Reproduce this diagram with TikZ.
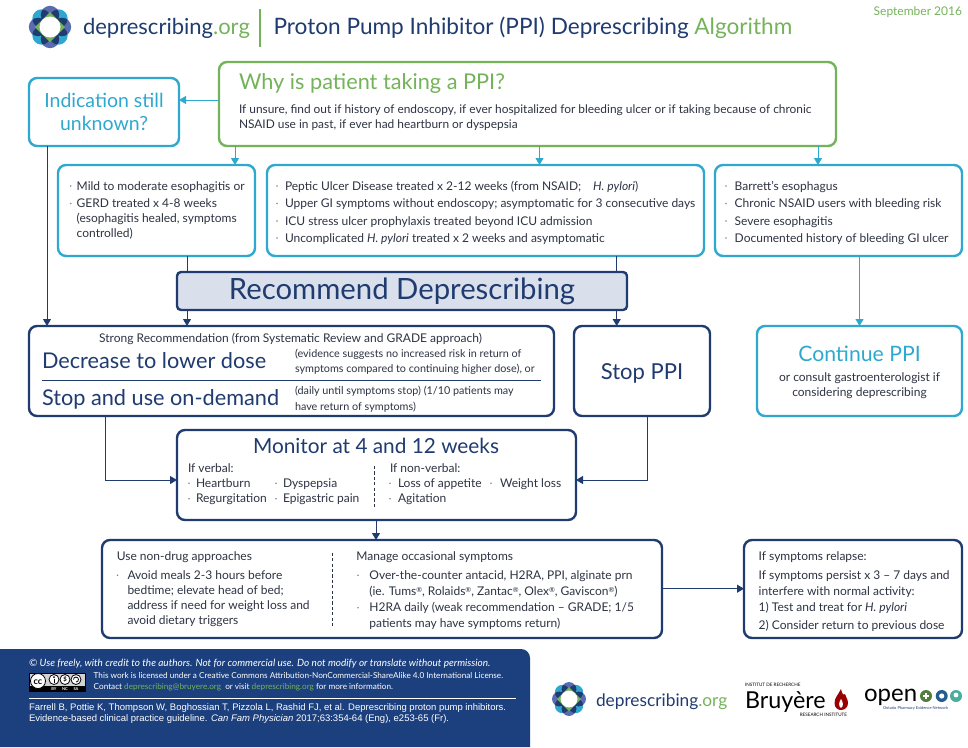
\documentclass[tikz,border=0pt]{standalone}
\usepackage{fontspec}
\setmainfont{Lato}
\newfontfamily\citefont{Liberation Sans}
\usetikzlibrary{arrows.meta}
\definecolor{navy}{HTML}{1F3B70}
\definecolor{sky}{HTML}{2FA8CF}
\definecolor{leaf}{HTML}{74B35A}
\definecolor{ink}{HTML}{2D3342}
\definecolor{lav}{HTML}{DADFEC}
\definecolor{foot}{HTML}{1C3F7E}
\definecolor{bulc}{HTML}{7F8898}
\definecolor{peri}{HTML}{5A6CB0}
\newcommand{\fs}[1]{\fontsize{#1}{#1}\selectfont}
\newcommand{\rg}{\raisebox{.35ex}{\fontsize{7}{7}\selectfont ®}}
\newcommand{\dplogo}[3]{%
\begin{scope}[shift={(#1,#2)},scale=#3]
\foreach \a in {45,135,225,315}{\fill[sky] (\a:12) circle (9.2);}
\foreach \a in {0,90,180,270}{\fill[peri] (\a:12) circle (9.2);}
\foreach \a in {0,90,180,270}{
 \begin{scope}
 \clip (\a:12) circle (9.2);
 \fill[navy] (\a+45:12) circle (9.2);
 \fill[navy] (\a-45:12) circle (9.2);
 \end{scope}}
\fill[leaf] (15,0)--(0,15)--(-15,0)--(0,-15)--cycle;
\fill[white] (0,0) circle (10.5);
\end{scope}}
\tikzset{
 x=1pt,y=-1pt,
 bx/.style={draw,rounded corners=8pt,line width=2.4pt,fill=white,inner sep=0pt,outer sep=0pt},
 skybox/.style={bx,draw=sky},
 navybox/.style={bx,draw=navy},
 leafbox/.style={bx,draw=leaf},
 skyarr/.style={draw=sky,line width=1pt,-{Triangle[length=7pt,width=8pt]}},
 navyarr/.style={draw=navy,line width=1pt,-{Triangle[length=7pt,width=8pt]}},
 navyline/.style={draw=navy,line width=1pt},
 sepline/.style={draw=ink,line width=.9pt,dash pattern=on 3.2pt off 2.2pt},
 tb/.style={anchor=base west,inner sep=0pt,outer sep=0pt,text=ink,font=\fs{12}},
 tc/.style={tb,anchor=base},
 small/.style={tb,font=\fs{10.8}},
 big/.style={tb,text=navy,font=\fs{21.7}},
 wt/.style={tb,text=white,font=\fs{8.2}},
 cite/.style={tb,text=white,font=\citefont\fs{9.5}},
 dot/.style={fill=bulc},
}
\begin{document}
\begin{tikzpicture}
\useasboundingbox (0,0) rectangle (968,747);
% header
\dplogo{50}{27}{1}
\node[tb,text=navy,font=\fs{22}] (hd1) at (83,34.3) {deprescribing\textcolor{leaf}{.org}};
\node[tb,text=navy,font=\fs{22.6}] (hd2) at (273.5,34.3) {Proton Pump Inhibitor (PPI) Deprescribing \textcolor{leaf}{Algorithm}};
\draw[leaf,line width=1.6pt] (260,9) -- (260,46.7);
\node[tb,anchor=base east,text=leaf,font=\fs{12}] (date) at (962,15.7) {September 2016};
% boxes
\node[leafbox,minimum width=617pt,minimum height=84pt] (why) at (527.5,104) {};
\node[skybox,minimum width=150pt,minimum height=68pt] (ind) at (104,112) {};
\node[skybox,minimum width=197pt,minimum height=91pt] (mild) at (156.5,210.5) {};
\node[skybox,minimum width=437pt,minimum height=91pt] (pep) at (485.5,210.5) {};
\node[skybox,minimum width=247pt,minimum height=91pt] (bar) at (838.5,210.5) {};
\node[navybox,fill=lav,rounded corners=4pt,minimum width=450pt,minimum height=38pt] (rec) at (402,291) {};
\node[navybox,minimum width=525pt,minimum height=90pt] (dec) at (291.5,371) {};
\node[navybox,minimum width=136pt,minimum height=90pt] (stop) at (642,371) {};
\node[skybox,minimum width=205pt,minimum height=90pt] (cont) at (859.5,371) {};
\node[navybox,minimum width=399pt,minimum height=90pt] (mon) at (376.5,475) {};
\node[navybox,minimum width=560pt,minimum height=98pt] (nd) at (382,589) {};
\node[navybox,minimum width=218pt,minimum height=98pt] (rel) at (853,589) {};
% connector guide coordinates
\coordinate (g1) at (235,0);
\coordinate (g2) at (539.5,0);
\coordinate (g3) at (818,0);
\coordinate (g4) at (47,0);
\coordinate (g5) at (187,0);
\coordinate (g6) at (616.7,0);
\coordinate (g7) at (859.5,0);
\coordinate (g8) at (105,0);
\coordinate (g9) at (647,0);
\coordinate (g10) at (376,0);
\coordinate (h1) at (0,100);
\coordinate (h2) at (0,480);
\coordinate (h3) at (0,588.7);
% connectors
\draw[skyarr] (why.west |- h1) -- (ind.east |- h1);
\draw[skyarr] (why.south -| g1) -- (mild.north -| g1);
\draw[skyarr] (why.south -| g2) -- (pep.north -| g2);
\draw[skyarr] (why.south -| g3) -- (bar.north -| g3);
\draw[navyarr] (ind.south -| g4) -- (dec.north -| g4);
\draw[navyline] (mild.south -| g5) -- (rec.north -| g5);
\draw[navyline] (pep.south -| g6) -- (rec.north -| g6);
\draw[navyarr] (rec.south -| g5) -- (dec.north -| g5);
\draw[navyarr] (rec.south -| g6) -- (stop.north -| g6);
\draw[skyarr] (bar.south -| g7) -- (cont.north -| g7);
\draw[navyarr] (dec.south -| g8) |- (mon.west |- h2);
\draw[navyarr] (stop.south -| g9) |- (mon.east |- h2);
\draw[navyarr] (mon.south -| g10) -- (nd.north -| g10);
\draw[navyarr] (nd.east |- h3) -- (rel.west |- h3);
% why
\node[tb,text=leaf,font=\fs{21.7}] (w0) at (239,89) {Why is patient taking a PPI?};
\node[tb,font=\fs{11.9}] (w1) at (239,113) {If unsure, find out if history of endoscopy, if ever hospitalized for bleeding ulcer or if taking because of chronic};
\node[tb,font=\fs{11.9}] (w2) at (239,128) {NSAID use in past, if ever had heartburn or dyspepsia};
% indication
\node[tc,text=sky,font=\fs{19.5}] (i1) at (104,107) {Indication still};
\node[tc,text=sky,font=\fs{19.5}] (i2) at (104,130) {unknown?};
% mild
\fill[dot] (70.7,186) circle (.9pt); \fill[dot] (70.7,203.5) circle (.9pt);
\node[tb] (m1) at (76.7,190) {Mild to moderate esophagitis or};
\node[tb] (m2) at (76.7,207.5) {GERD treated x 4-8 weeks};
\node[tb] (m3) at (76.7,222.7) {(esophagitis healed, symptoms};
\node[tb] (m4) at (76.7,237) {controlled)};
% peptic
\foreach \y in {186,203.5,221,238}{\fill[dot] (277,\y) circle (.9pt);}
\node[tb] (p1) at (285,190) {Peptic Ulcer Disease treated x 2-12 weeks (from NSAID;\quad\textit{H. pylori})};
\node[tb] (p2) at (285,207.5) {Upper GI symptoms without endoscopy; asymptomatic for 3 consecutive days};
\node[tb] (p3) at (285,225) {ICU stress ulcer prophylaxis treated beyond ICU admission};
\node[tb] (p4) at (285,242) {Uncomplicated \textit{H. pylori} treated x 2 weeks and asymptomatic};
% barrett
\foreach \y in {186,203.5,221,238}{\fill[dot] (726,\y) circle (.9pt);}
\node[tb] (b1) at (734.7,190) {Barrett’s esophagus};
\node[tb] (b2) at (734.7,207.5) {Chronic NSAID users with bleeding risk};
\node[tb] (b3) at (734.7,225) {Severe esophagitis};
\node[tb] (b4) at (734.7,242) {Documented history of bleeding GI ulcer};
% recommend
\node[tc,text=navy,font=\fs{29.3}] (r0) at (402,299) {Recommend Deprescribing};
% decrease
\node[tc] (d0) at (290.5,342.7) {Strong Recommendation (from Systematic Review and GRADE approach)};
\node[big] (d1) at (42,368) {Decrease to lower dose};
\node[big] (d2) at (42,405) {Stop and use on-demand};
\node[small] (d3) at (295,357.7) {(evidence suggests no increased risk in return of};
\node[small] (d4) at (295,372.7) {symptoms compared to continuing higher dose), or};
\node[small] (d5) at (295,394) {(daily until symptoms stop) (1/10 patients may};
\node[small] (d6) at (295,410.7) {have return of symptoms)};
\coordinate (dl) at (42,380);
\coordinate (dr) at (541,380);
\draw[navy,line width=.8pt] (dl) -- (dr);
% stop / continue
\node[tc,text=navy,font=\fs{22}] (s0) at (642,379) {Stop PPI};
\node[tc,text=sky,font=\fs{21.2}] (c0) at (859.5,361.7) {Continue PPI};
\node[tc] (c1) at (859.5,381.7) {or consult gastroenterologist if};
\node[tc] (c2) at (859.5,396.7) {considering deprescribing};
% monitor
\node[tc,text=navy,font=\fs{20.8}] (mo0) at (376,453) {Monitor at 4 and 12 weeks};
\node[tb] (mo1) at (188,472.7) {If verbal:};
\foreach \x/\y in {189/483.3,189/498.7,276/483.3,276/498.7,390/483.3,390/498.7,491/483.3}{\fill[dot] (\x,\y) circle (.9pt);}
\node[tb] (mo2) at (196,487.3) {Heartburn};
\node[tb] (mo3) at (196,502.7) {Regurgitation};
\node[tb] (mo4) at (283,487.3) {Dyspepsia};
\node[tb] (mo5) at (283,502.7) {Epigastric pain};
\draw[sepline] (374.5,466) -- (374.5,508);
\node[tb] (mo6) at (390,472.7) {If non-verbal:};
\node[tb] (mo7) at (398,487.3) {Loss of appetite};
\node[tb] (mo8) at (398,502.7) {Agitation};
\node[tb] (mo9) at (500,487.3) {Weight loss};
% non-drug
\node[tb] (n0) at (116.8,560.7) {Use non-drug approaches};
\fill[dot] (117.5,575.3) circle (.9pt);
\node[tb] (n1) at (127.5,579.3) {Avoid meals 2-3 hours before};
\node[tb] (n2) at (127.5,594.3) {bedtime; elevate head of bed;};
\node[tb] (n3) at (127.5,609.3) {address if need for weight loss and};
\node[tb] (n4) at (127.5,624.3) {avoid dietary triggers};
\draw[sepline] (332,552.7) -- (332,626.7);
\node[tb] (o0) at (356.4,560.7) {Manage occasional symptoms};
\fill[dot] (358,575.3) circle (.9pt); \fill[dot] (358,607.7) circle (.9pt);
\node[tb] (o1) at (369.4,579.3) {Over-the-counter antacid, H2RA, PPI,\ alginate prn};
\node[tb] (o2) at (369.4,595) {(ie. Tums\rg, Rolaids\rg, Zantac\rg, Olex\rg, Gaviscon\rg)};
\node[tb] (o3) at (369.4,611.7) {H2RA daily (weak recommendation – GRADE; 1/5};
\node[tb] (o4) at (369.4,627.7) {patients may have symptoms return)};
% relapse
\node[tb] (e0) at (758.7,560.7) {If symptoms relapse:};
\node[tb] (e1) at (758.7,579.3) {If symptoms persist x 3 – 7 days and};
\node[tb] (e2) at (758.7,595) {interfere with normal activity:};
\node[tb] (e3) at (758.7,611.7) {1) Test and treat for \textit{H. pylori}};
\node[tb] (e4) at (758.7,629.3) {2) Consider return to previous dose};
% footer
\fill[foot] (0,649) -- (521,649) arc[start angle=90,end angle=0,radius=9pt] -- (530,747) -- (0,747) -- cycle;
\node[tb,text=white,font=\itshape\fs{10}] (f0) at (29,666.7) {© Use freely, with credit to the authors. Not for commercial use. Do not modify or translate without permission.};
\node[wt] (f1) at (93.7,678.3) {This work is licensed under a Creative Commons Attribution-NonCommercial-ShareAlike 4.0 International License.};
\node[wt] (f2) at (93.7,689.3) {Contact \textcolor{leaf}{deprescribing@bruyere.org}\ \ or visit\ \textcolor{leaf}{deprescribing.org}\ for more information.};
\coordinate (fl) at (29,698); \coordinate (fr) at (516,698);
\draw[white,line width=.7pt] (fl) -- (fr);
\node[cite] (f3) at (29,710.7) {Farrell B, Pottie K, Thompson W, Boghossian T, Pizzola L, Rashid FJ, et al. Deprescribing proton pump inhibitors.};
\node[cite] (f4) at (29,721.7) {Evidence-based clinical practice guideline. \textit{Can Fam Physician} 2017;63:354-64 (Eng), e253-65 (Fr).};
% cc badge
\fill[black] (29,673) rectangle (86,692);
\fill[gray!35] (29.6,673.6) rectangle (85.4,686);
\fill[white,draw=black,line width=.8pt] (38,681) circle (7.5pt);
\node[tc,text=black,font=\bfseries\fs{9}] (cc0) at (38,684) {cc};
\foreach \x in {54,65,76}{\fill[white,draw=black,line width=.8pt] (\x,679.5) circle (5pt);}
\node[tc,text=black,font=\bfseries\fs{6}] (cc2) at (65,681.5) {\$};
\fill[black] (54,677) circle (1pt); \draw[black,line width=1pt] (54,678.5) -- (54,682.5);
\draw[black,line width=.8pt] (73.5,679.5) arc[start angle=180,end angle=-90,radius=2.5pt];
\node[tc,text=white,font=\bfseries\fs{4}] (cc3) at (54,690.8) {BY};
\node[tc,text=white,font=\bfseries\fs{4}] (cc4) at (65,690.8) {NC};
\node[tc,text=white,font=\bfseries\fs{4}] (cc5) at (76,690.8) {SA};
% bottom logos
\dplogo{569}{699}{0.8}
\node[tb,text=navy,font=\fs{17.3}] (l1) at (596,706.7) {deprescribing\textcolor{leaf}{.org}};
\node[tb,text=black,font=\fs{4.6}] (l2) at (745,686) {INSTITUT DE RECHERCHE};
\node[tb,text=black,font=\fs{23.3}] (l3) at (745,708) {Bruyère};
\node[tb,anchor=base east,text=black,font=\fs{4.6}] (l4) at (847,716) {RESEARCH INSTITUTE};
\fill[red!60!black] (841,689) .. controls (838,695) and (834.5,698) .. (834.5,703) .. controls (834.5,708) and (838,710) .. (841,710) .. controls (845,710) and (848,707) .. (848,703) .. controls (848,698) and (845,697) .. (845,694) .. controls (843,696) and (842,693) .. (841,689) -- cycle;
\fill[white] (841,708) .. controls (838,706) and (839,702) .. (841,699) .. controls (843,702) and (844,706) .. (841,708) -- cycle;
\node[tb,text=black,font=\fs{24}] (l5) at (864,701.7) {open};
\fill[leaf!70!black] (926,696) circle (6pt);
\fill[white] (923,695.2) rectangle (929,696.8); \fill[white] (925.2,693) rectangle (926.8,699);
\fill[navy!70!sky] (941.7,696) circle (6pt); \fill[white] (941.7,696) circle (2.6pt);
\fill[sky!60!leaf] (956,696) circle (6pt); \fill[white] (956,695) circle (2.4pt);
\node[tb,text=navy,font=\fs{4}] (l6) at (883,709) {Ontario Pharmacy Evidence Network};
\end{tikzpicture}
\end{document}
